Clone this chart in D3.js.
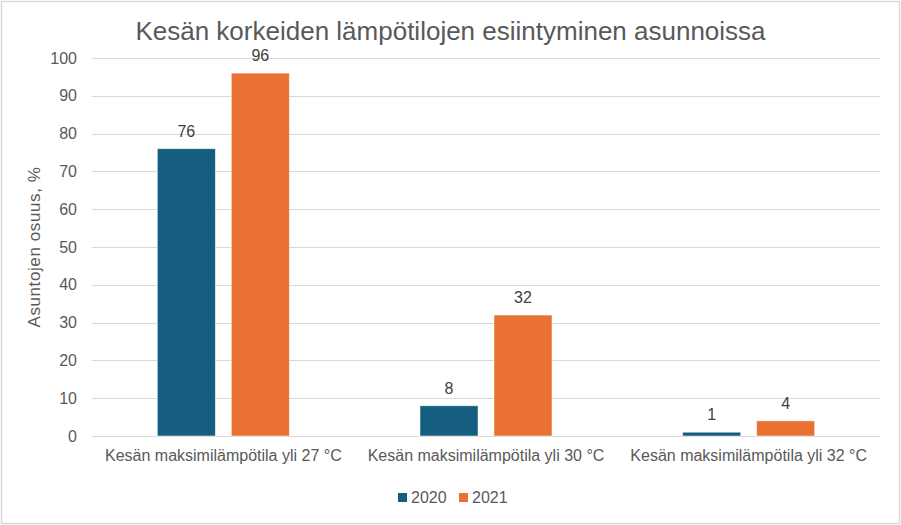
<!DOCTYPE html>
<html>
<head>
<meta charset="utf-8">
<script src="https://cdn.jsdelivr.net/npm/d3@7"></script>
<style>
  body { margin: 0; background: #fff; }
  svg text { font-family: "Liberation Sans", Arial, sans-serif; }
</style>
</head>
<body>
<div id="chart"></div>
<script>
// data
const categories = [
  'Kesän maksimilämpötila yli 27 °C',
  'Kesän maksimilämpötila yli 30 °C',
  'Kesän maksimilämpötila yli 32 °C'
];
const seriesNames = ['2020', '2021'];
const values2020 = [76, 8, 1];
const values2021 = [96, 32, 4];
const yTicks = [0, 10, 20, 30, 40, 50, 60, 70, 80, 90, 100];
const colors = ['#165e80', '#e97132'];

const width = 901, height = 525;
const margin = { top: 58, right: 21, bottom: 89, left: 92 };

const svg = d3.select('#chart').append('svg')
  .attr('width', width)
  .attr('height', height);

// chart border
svg.append('rect')
  .attr('x', 1.5).attr('y', 1.5)
  .attr('width', width - 3).attr('height', height - 3)
  .attr('fill', '#fff')
  .attr('stroke', '#d9d9d9')
  .attr('stroke-width', 1.5);

const x0 = d3.scaleBand()
  .domain(categories)
  .range([margin.left, width - margin.right]);

const x1 = d3.scaleBand()
  .domain(seriesNames)
  .range([0, x0.bandwidth()])
  .paddingInner(0.216)
  .paddingOuter(0.883);

const y = d3.scaleLinear()
  .domain([0, 100])
  .range([height - margin.bottom, margin.top]);

// gridlines
svg.append('g')
  .selectAll('line')
  .data(yTicks)
  .join('line')
  .attr('x1', margin.left)
  .attr('x2', width - margin.right)
  .attr('y1', d => Math.round(y(d)) + 0.5)
  .attr('y2', d => Math.round(y(d)) + 0.5)
  .attr('stroke', '#d9d9d9')
  .attr('stroke-width', 1.2);

// y axis labels
const yAxis = d3.axisLeft(y)
  .tickValues(yTicks)
  .tickSize(0)
  .tickPadding(15);

const gy = svg.append('g')
  .attr('transform', 'translate(' + margin.left + ',0)')
  .call(yAxis);
gy.select('.domain').remove();
gy.selectAll('.tick text')
  .attr('fill', '#595959')
  .style('font-size', '16px');

// bars
const rows = categories.map((c, i) => ({
  category: c,
  values: [values2020[i], values2021[i]]
}));

const groups = svg.append('g')
  .selectAll('g')
  .data(rows)
  .join('g')
  .attr('transform', d => 'translate(' + x0(d.category) + ',0)');

groups.selectAll('rect')
  .data(d => d.values.map((v, i) => ({ key: seriesNames[i], value: v, i: i })))
  .join('rect')
  .attr('x', d => x1(d.key))
  .attr('y', d => y(d.value))
  .attr('width', x1.bandwidth())
  .attr('height', d => y(0) - y(d.value))
  .attr('fill', d => colors[d.i])
  .attr('stroke', '#ffffff')
  .attr('stroke-opacity', 0.6)
  .attr('stroke-width', 0.8);

groups.selectAll('text.value')
  .data(d => d.values.map((v, i) => ({ key: seriesNames[i], value: v })))
  .join('text')
  .attr('class', 'value')
  .attr('x', d => x1(d.key) + x1.bandwidth() / 2)
  .attr('y', d => y(d.value) - 12)
  .attr('text-anchor', 'middle')
  .attr('fill', '#404040')
  .style('font-size', '16px')
  .text(d => d.value);

// x axis (category labels)
const xAxis = d3.axisBottom(x0)
  .tickSize(0)
  .tickPadding(14);

const gx = svg.append('g')
  .attr('transform', 'translate(0,' + y(0) + ')')
  .call(xAxis);
gx.select('.domain').remove();
gx.selectAll('.tick text')
  .attr('fill', '#595959')
  .style('font-size', '16px');

// title
svg.append('text')
  .attr('x', width / 2)
  .attr('y', 40)
  .attr('text-anchor', 'middle')
  .attr('fill', '#595959')
  .style('font-size', '26px')
  .text('Kesän korkeiden lämpötilojen esiintyminen asunnoissa');

// y axis title
svg.append('text')
  .attr('transform', 'translate(40,' + (margin.top + (height - margin.bottom - margin.top) / 2) + ') rotate(-90)')
  .attr('text-anchor', 'middle')
  .attr('fill', '#595959')
  .style('font-size', '17px')
  .style('letter-spacing', '0.6px')
  .text('Asuntojen osuus, %');

// legend
const legendX = [398, 459];
const legend = svg.append('g')
  .selectAll('g')
  .data(seriesNames)
  .join('g')
  .attr('transform', (d, i) => 'translate(' + legendX[i] + ',493)');

legend.append('rect')
  .attr('width', 9)
  .attr('height', 9)
  .attr('fill', (d, i) => colors[i]);

legend.append('text')
  .attr('x', 13)
  .attr('y', 10)
  .attr('fill', '#595959')
  .style('font-size', '16px')
  .text(d => d);
</script>
</body>
</html>
